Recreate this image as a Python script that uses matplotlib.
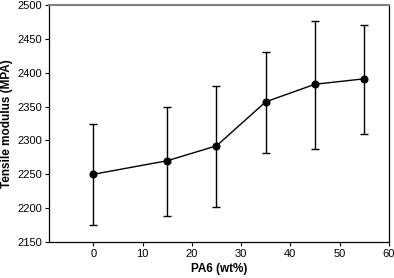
import matplotlib
matplotlib.use("Agg")
import matplotlib.pyplot as plt

x = [0, 15, 25, 35, 45, 55]
y = [2250, 2270, 2292, 2357, 2383, 2391]
err_low = [2175, 2189, 2201, 2281, 2287, 2310]
err_high = [2325, 2349, 2381, 2431, 2477, 2471]
xticks = [0, 10, 20, 30, 40, 50, 60]
yticks = [2150, 2200, 2250, 2300, 2350, 2400, 2450, 2500]

plt.rcParams['font.family'] = ['Liberation Sans', 'DejaVu Sans']
fig = plt.figure(figsize=(3.94, 2.78), dpi=100)
ax = fig.add_axes([0.1244, 0.1295, 0.8626, 0.8525])

yerr = [[yv - lo for yv, lo in zip(y, err_low)], [hi - yv for yv, hi in zip(y, err_high)]]
ax.errorbar(x, y, yerr=yerr, color='black', marker='o', markersize=4.8, linewidth=1.0,
            elinewidth=1.0, capsize=3.2, capthick=1.0)

ax.set_xlim(-9, 60)
ax.set_ylim(2150, 2500)
ax.set_xticks(xticks)
ax.set_yticks(yticks)
ax.tick_params(axis='both', labelsize=8, length=3, width=0.8, direction='out', pad=2)
ax.tick_params(top=False, right=False)
ax.spines['top'].set_color('#808080')
ax.spines['top'].set_linewidth(1.5)
for s in ['left', 'bottom', 'right']:
    ax.spines[s].set_linewidth(0.9)
ax.set_xlabel('PA6 (wt%)', fontsize=8.5, fontweight='bold', labelpad=3)
ax.set_ylabel('Tensile modulus (MPA)', fontsize=8.5, fontweight='bold', labelpad=3)

fig.savefig('out.png', dpi=100)
